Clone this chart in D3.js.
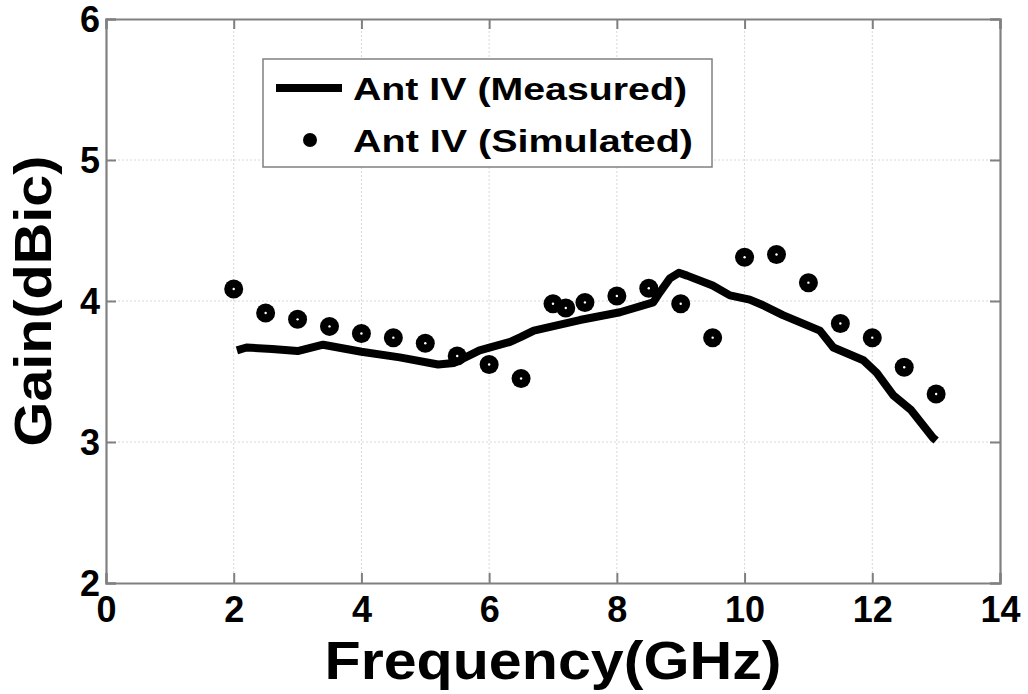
<!DOCTYPE html>
<html><head><meta charset="utf-8">
<script src="https://cdn.jsdelivr.net/npm/d3@7"></script>
<style>body{margin:0;background:#fff}svg{display:block}text{font-family:"Liberation Sans",Arial,sans-serif;font-weight:bold;fill:#000}</style>
</head><body>
<svg id="c" width="1028" height="694"></svg>
<script>
const xTicks = [0, 2, 4, 6, 8, 10, 12, 14];
const yTicks = [2, 3, 4, 5, 6];
const measuredFreq = [2.05, 2.2, 2.6, 3.0, 3.4, 4.0, 4.6, 5.2, 5.45, 5.85, 6.33, 6.5, 6.7, 7.42, 8.05, 8.57, 8.67, 8.83, 8.97, 9.1, 9.5, 9.77, 10.08, 10.29, 10.6, 11.18, 11.39, 11.86, 12.07, 12.33, 12.6, 12.95, 13.0];
const measuredGain = [3.65, 3.67, 3.66, 3.645, 3.69, 3.64, 3.60, 3.55, 3.56, 3.65, 3.71, 3.745, 3.79, 3.865, 3.92, 3.99, 4.06, 4.16, 4.20, 4.18, 4.11, 4.04, 4.01, 3.97, 3.90, 3.79, 3.67, 3.58, 3.49, 3.33, 3.23, 3.03, 3.01];
const simFreq = [2, 2.5, 3, 3.5, 4, 4.5, 5, 5.5, 6, 6.5, 7, 7.2, 7.5, 8, 8.5, 9, 9.5, 10, 10.5, 11, 11.5, 12, 12.5, 13];
const simGain = [4.085, 3.915, 3.87, 3.82, 3.77, 3.74, 3.70, 3.61, 3.55, 3.45, 3.98, 3.95, 3.99, 4.035, 4.09, 3.98, 3.74, 4.31, 4.33, 4.13, 3.84, 3.74, 3.53, 3.34];
const legendLabels = ["Ant IV (Measured)", "Ant IV (Simulated)"];

const svg = d3.select("#c");
const L = 106, R = 1000, T = 19, B = 583;
const x = d3.scaleLinear().domain([0, 14]).range([L, R]);
const y = d3.scaleLinear().domain([2, 6]).range([B, T]);
const axisCol = "#808080";

// grid
svg.append("g").selectAll("line").data(xTicks.slice(1, -1)).join("line")
  .attr("x1", d => x(d)).attr("x2", d => x(d)).attr("y1", T).attr("y2", B)
  .attr("stroke", "#d8d8d8").attr("stroke-width", 1).attr("stroke-dasharray", "2,2");
svg.append("g").selectAll("line").data(yTicks.slice(1, -1)).join("line")
  .attr("y1", d => y(d)).attr("y2", d => y(d)).attr("x1", L).attr("x2", R)
  .attr("stroke", "#d8d8d8").attr("stroke-width", 1).attr("stroke-dasharray", "2,2");

// axes with inward ticks
const fmt = d3.format("d");
const gxB = svg.append("g").attr("transform", `translate(0,${B})`)
  .call(d3.axisBottom(x).tickValues(xTicks).tickSize(-10).tickPadding(16).tickFormat(fmt));
const gxT = svg.append("g").attr("transform", `translate(0,${T})`)
  .call(d3.axisTop(x).tickValues(xTicks).tickSize(-10).tickFormat(""));
const gyL = svg.append("g").attr("transform", `translate(${L},0)`)
  .call(d3.axisLeft(y).tickValues(yTicks).tickSize(-10).tickPadding(16).tickFormat(fmt));
const gyR = svg.append("g").attr("transform", `translate(${R},0)`)
  .call(d3.axisRight(y).tickValues(yTicks).tickSize(-10).tickFormat(""));
[gxB, gxT, gyL, gyR].forEach(g => {
  g.selectAll(".domain").attr("stroke", axisCol).attr("stroke-width", 2.2);
  g.selectAll(".tick line").attr("stroke", axisCol).attr("stroke-width", 2);
  g.selectAll("text").style("font-family", '"Liberation Sans",Arial,sans-serif')
   .style("font-weight", "bold").style("font-size", "36px").attr("fill", "#000");
});
gxB.selectAll("text").attr("dy", null).attr("y", 39);
gyL.selectAll("text").attr("x", -6).attr("dy", "0.36em");

// measured line
svg.append("path")
  .datum(measuredFreq.map((f, i) => [f, measuredGain[i]]))
  .attr("d", d3.line().x(d => x(d[0])).y(d => y(d[1])))
  .attr("fill", "none").attr("stroke", "#000").attr("stroke-width", 8)
  .attr("stroke-linejoin", "round");

// simulated markers
const sim = svg.append("g").selectAll("g").data(simFreq.map((f, i) => [f, simGain[i]])).join("g")
  .attr("transform", d => `translate(${x(d[0])},${y(d[1])})`);
sim.append("circle").attr("r", 9.5).attr("fill", "#000");
sim.append("circle").attr("r", 1.2).attr("fill", "#fff");

// legend
const lg = svg.append("g");
lg.append("rect").attr("x", 263).attr("y", 59).attr("width", 449).attr("height", 108)
  .attr("fill", "#fff").attr("stroke", axisCol).attr("stroke-width", 1.5);
lg.append("line").attr("x1", 276).attr("x2", 342).attr("y1", 88).attr("y2", 88)
  .attr("stroke", "#000").attr("stroke-width", 8);
lg.append("circle").attr("cx", 310).attr("cy", 140).attr("r", 7).attr("fill", "#000");
lg.selectAll("text").data(legendLabels).join("text")
  .attr("x", 353).attr("y", (d, i) => 100 + i * 52)
  .attr("textLength", (d, i) => i === 0 ? 334 : 340).attr("lengthAdjust", "spacingAndGlyphs")
  .style("font-size", "31px").text(d => d);

// axis titles
svg.append("text").attr("x", (L + R) / 2).attr("y", 679).attr("text-anchor", "middle")
  .attr("textLength", 457).attr("lengthAdjust", "spacingAndGlyphs")
  .style("font-size", "54px").text("Frequency(GHz)");
svg.append("text").attr("transform", `translate(51,${(T + B) / 2}) rotate(-90)`)
  .attr("text-anchor", "middle").attr("textLength", 291).attr("lengthAdjust", "spacingAndGlyphs")
  .style("font-size", "52px").text("Gain(dBic)");
</script>
</body></html>
